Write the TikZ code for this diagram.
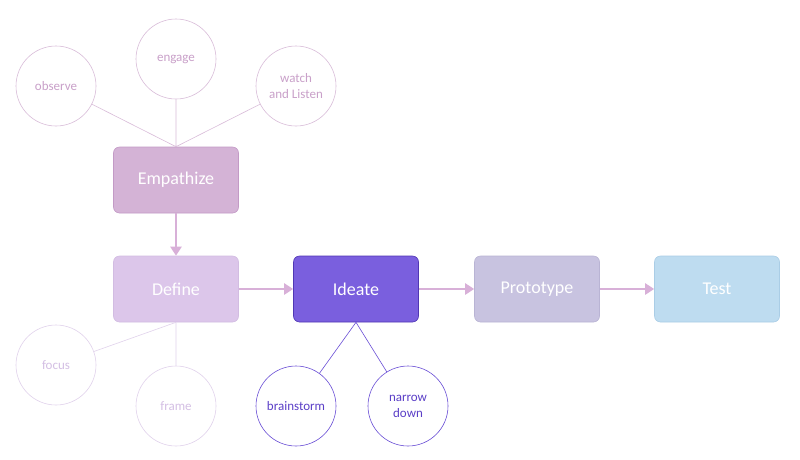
\documentclass[tikz,border=0pt]{standalone}
\usepackage{fontspec}
\setmainfont{Carlito}
\usetikzlibrary{arrows.meta}
\definecolor{arr}{HTML}{D8B0D8}
\definecolor{ct}{HTML}{C9A0C9}
\definecolor{cb}{HTML}{D4BFE4}
\definecolor{ci}{HTML}{5B3FC7}
\definecolor{cil}{HTML}{6A4FD6}
\definecolor{empf}{HTML}{D4B3D6}\definecolor{empd}{HTML}{C39AC6}
\definecolor{deff}{HTML}{DCC6EA}\definecolor{defd}{HTML}{D2BCE2}
\definecolor{idef}{HTML}{7A5FDE}\definecolor{ided}{HTML}{5037B4}
\definecolor{prof}{HTML}{C8C3E0}\definecolor{prod}{HTML}{B9B4D4}
\definecolor{tesf}{HTML}{BEDCF0}\definecolor{tesd}{HTML}{AACDE6}
\begin{document}
\begin{tikzpicture}[x=1pt,y=-1pt,
 box/.style={rounded corners=6pt,minimum width=125pt,minimum height=66pt,text=white,font=\fontsize{18}{20}\selectfont,line width=0.6pt},
 circ/.style={circle,minimum size=80pt,inner sep=0pt,align=center,font=\fontsize{13}{16}\selectfont,line width=0.6pt},
 top/.style={circ,draw=#1!70!white,text=#1},
 ar/.style={arr,line width=2.5pt,-{Triangle[length=9pt,width=11pt]}}]
\fill[white] (0,0) rectangle (800,459);
\node[box,fill=empf,draw=empd] (emp) at (176,180) {Empathize};
\node[box,fill=deff,draw=defd] (def) at (176,289) {Define};
\node[box,fill=idef,draw=ided] (ide) at (356,289) {Ideate};
\node[box,fill=prof,draw=prod] (pro) at (537,289) {Prototype};
\node[box,fill=tesf,draw=tesd] (tes) at (717,289) {Test};
\node[top=ct] (obs) at (56,86) {observe};
\node[top=ct] (eng) at (176,59) {engage};
\node[top=ct] (wat) at (296,86) {watch\\and Listen};
\node[top=cb] (foc) at (56,365) {focus};
\node[top=cb] (fra) at (176,406) {frame};
\node[circ,draw=cil,text=ci] (bra) at (296,406) {brainstorm};
\node[circ,draw=cil,text=ci] (nar) at (408,406) {narrow\\down};
\draw[ct!70!white,line width=0.6pt] (emp.north) -- (obs) (emp.north) -- (eng) (emp.north) -- (wat);
\draw[cb!70!white,line width=0.6pt] (def.south) -- (foc) (def.south) -- (fra);
\draw[cil,line width=0.6pt] (ide.south) -- (bra) (ide.south) -- (nar);
\draw[ar] (emp) -- (def);
\draw[ar] (def) -- (ide);
\draw[ar] (ide) -- (pro);
\draw[ar] (pro) -- (tes);
\end{tikzpicture}
\end{document}
